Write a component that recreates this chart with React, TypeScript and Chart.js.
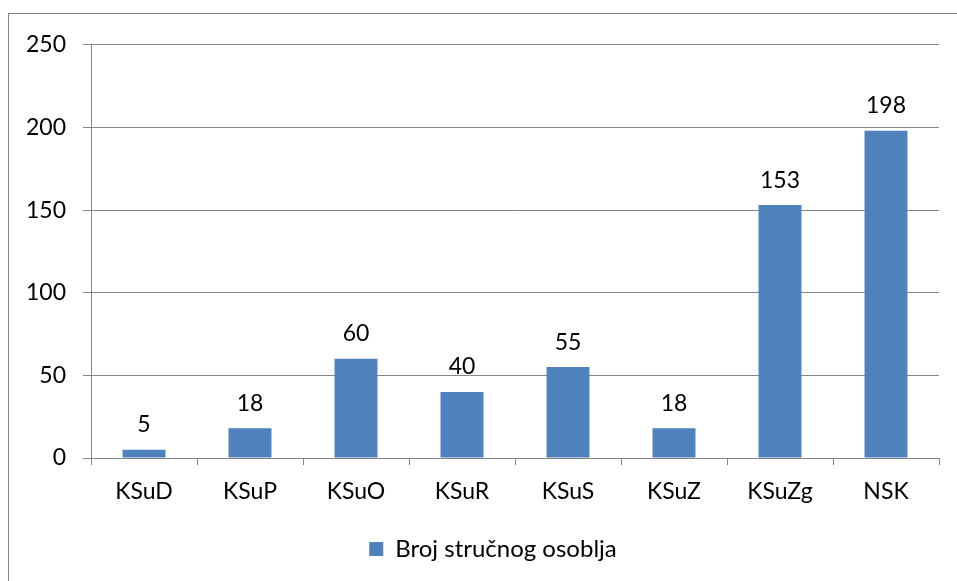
import React, { useEffect, useRef } from "react";
import { Chart, registerables } from "chart.js";

Chart.register(...registerables);

const categories = ["KSuD", "KSuP", "KSuO", "KSuR", "KSuS", "KSuZ", "KSuZg", "NSK"];
const values = [5, 18, 60, 40, 55, 18, 153, 198];
const seriesName = "Broj stručnog osoblja";
const yMin = 0;
const yMax = 250;
const yStep = 50;

const FONT = "Lato";
const GRAY = "#868686";
const BAR = "#4F81BD";

const dataLabels = {
  id: "dataLabels",
  afterDatasetsDraw(chart: any) {
    const ctx = chart.ctx;
    const meta = chart.getDatasetMeta(0);
    ctx.save();
    ctx.font = `23px ${FONT}`;
    ctx.fillStyle = "#000";
    ctx.textAlign = "center";
    ctx.textBaseline = "middle";
    meta.data.forEach((el: any, i: number) => {
      ctx.fillText(String(values[i]), el.x, el.y - 25);
    });
    ctx.restore();
  },
};

export default function App() {
  const ref = useRef<HTMLCanvasElement>(null);
  useEffect(() => {
    if (!ref.current) return;
    const chart = new Chart(ref.current, {
      type: "bar",
      data: {
        labels: categories,
        datasets: [
          {
            label: seriesName,
            data: values,
            backgroundColor: BAR,
            borderWidth: 0,
            barPercentage: 0.405,
            categoryPercentage: 1,
            yAxisID: "y",
          },
        ],
      },
      options: {
        responsive: false,
        animation: false,
        layout: { padding: { left: 0, right: 0, top: 28, bottom: 8 } },
        plugins: {
          tooltip: { enabled: false },
          legend: {
            position: "bottom",
            labels: {
              boxWidth: 14,
              boxHeight: 14,
              color: "#000",
              font: { family: FONT, size: 24 },
              padding: 10,
            },
          },
        },
        scales: {
          x: {
            grid: {
              drawOnChartArea: false,
              offset: true,
              tickLength: 7,
              color: GRAY,
            },
            border: { color: GRAY },
            ticks: {
              color: "#000",
              font: { family: FONT, size: 23 },
              padding: 13,
              maxRotation: 0,
            },
            afterFit: (s: any) => {
              s.height = 69;
            },
          },
          y: {
            position: "left",
            min: yMin,
            max: yMax,
            grid: { color: GRAY, tickLength: 8 },
            border: { color: GRAY },
            ticks: {
              stepSize: yStep,
              color: "#000",
              font: { family: FONT, size: 23 },
              padding: 17,
            },
            afterFit: (s: any) => {
              s.width = 82;
            },
          },
          yRight: {
            type: "linear",
            position: "right",
            min: yMin,
            max: yMax,
            grid: { display: false, drawTicks: false },
            border: { display: false },
            ticks: { display: false },
            afterFit: (s: any) => {
              s.width = 38;
            },
          },
        },
      },
      plugins: [dataLabels],
    });
    return () => chart.destroy();
  }, []);

  return (
    <div
      style={{
        position: "fixed",
        left: 0,
        top: 0,
        width: 957,
        height: 581,
        overflow: "hidden",
        background: "#fff",
      }}
    >
      <div
        style={{
          position: "absolute",
          left: 8,
          top: 13,
          width: 968,
          height: 600,
          border: `1px solid ${GRAY}`,
        }}
      >
        <canvas ref={ref} width={968} height={565} style={{ display: "block" }} />
      </div>
    </div>
  );
}
